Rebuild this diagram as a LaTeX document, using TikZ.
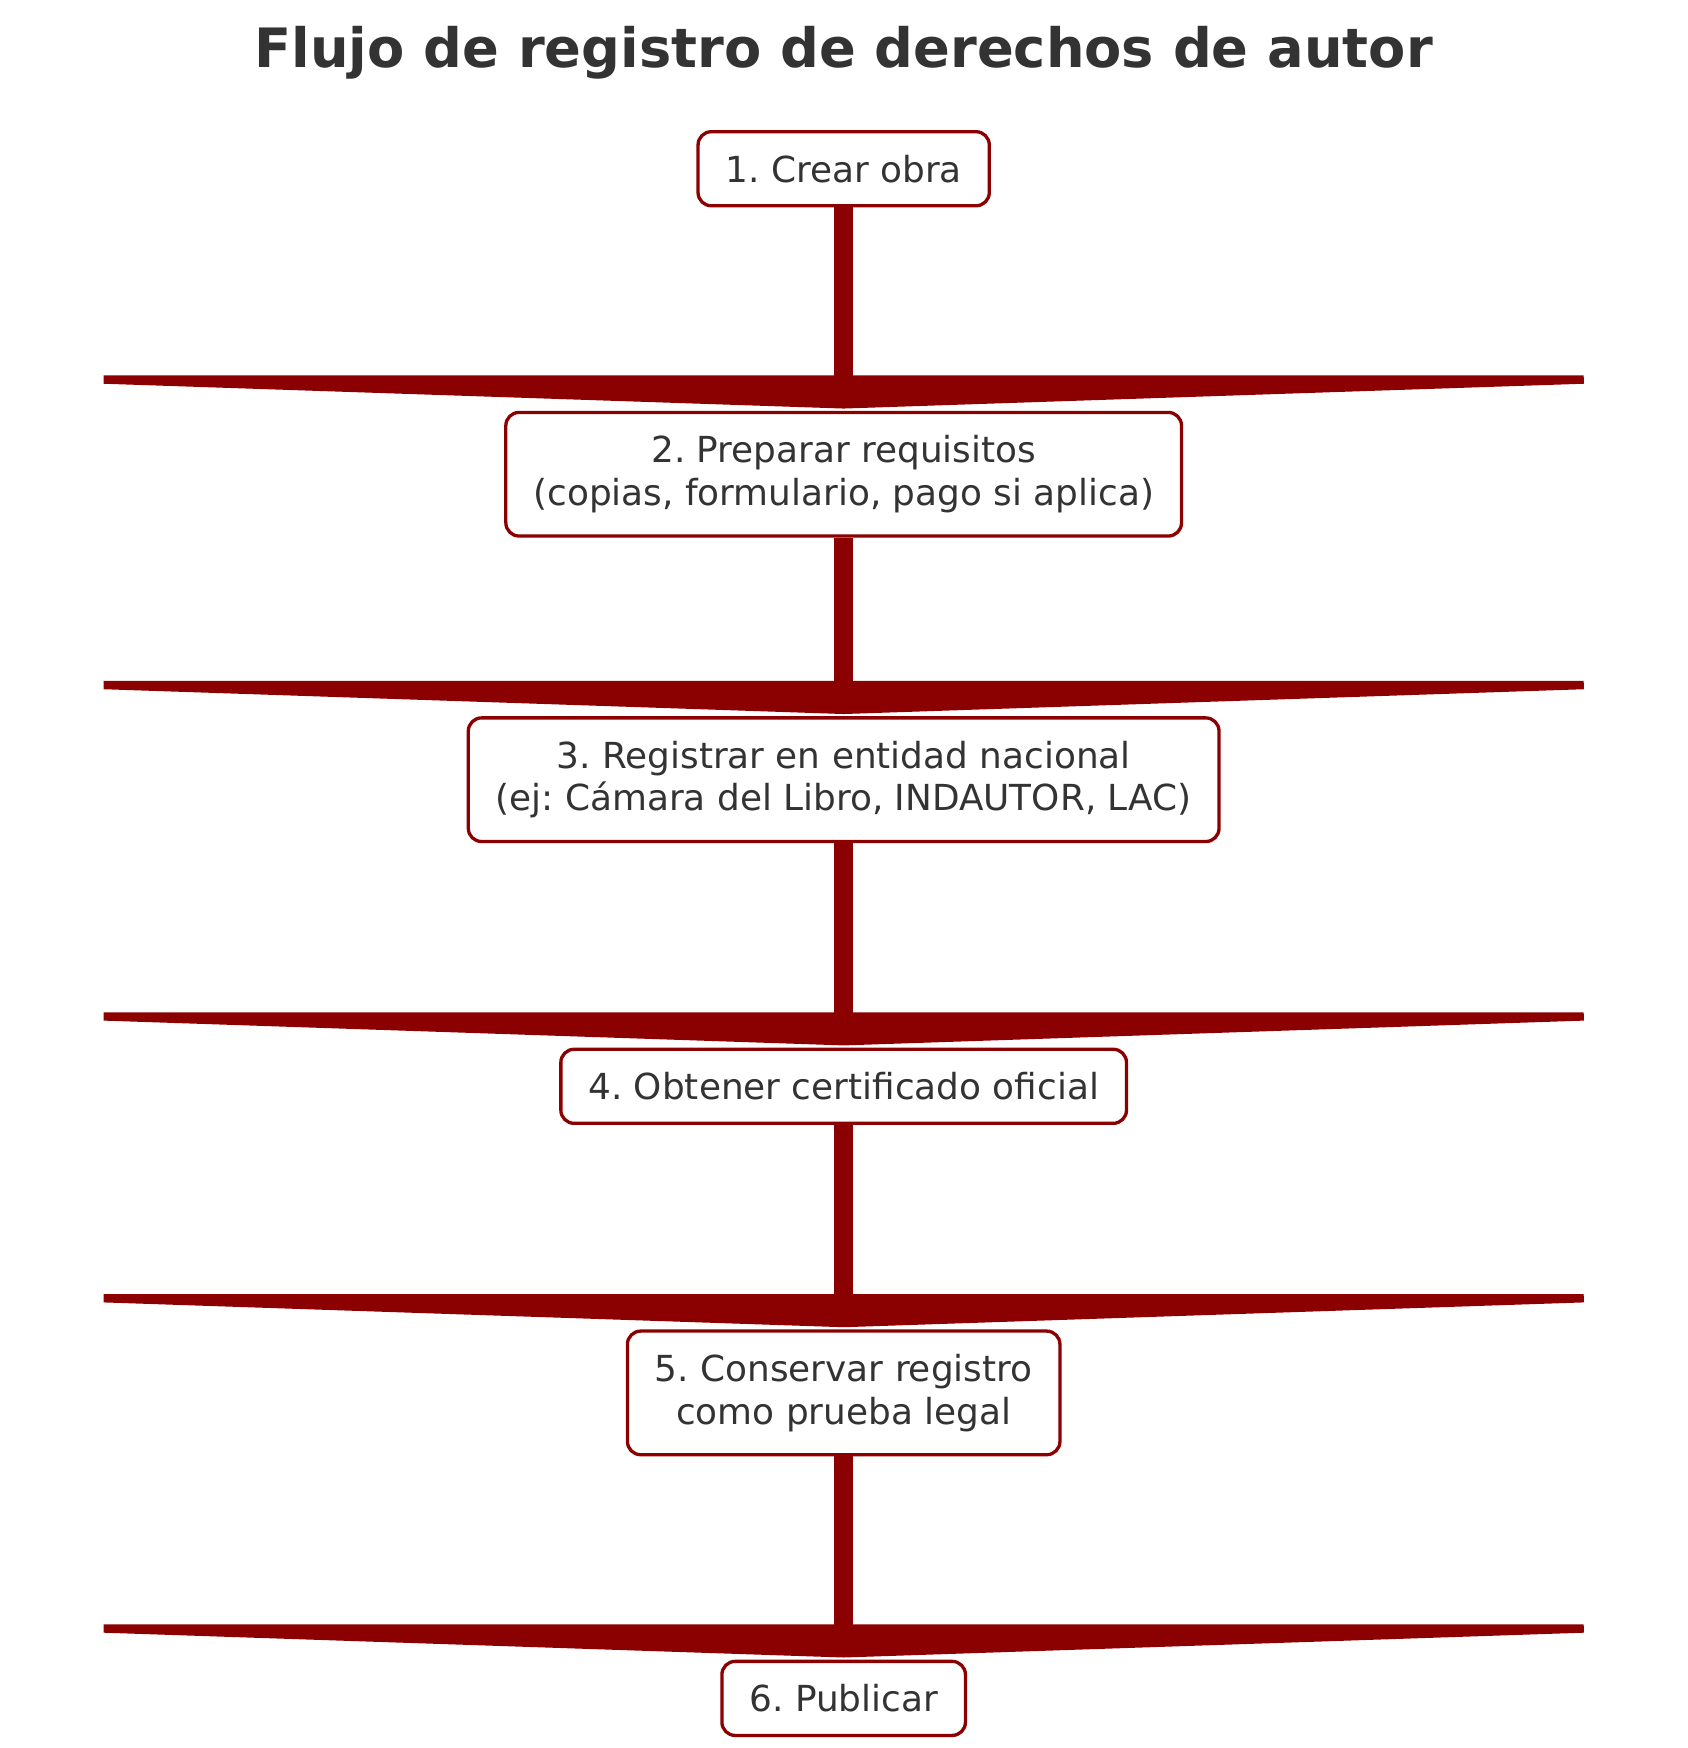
\documentclass[tikz,border=0pt]{standalone}
\usepackage{fontspec}
\setmainfont{DejaVu Sans}
\usetikzlibrary{arrows.meta, positioning}
\definecolor{flowred}{HTML}{8B0000}
\definecolor{txtgray}{HTML}{333333}

\begin{document}
\frenchspacing
\begin{tikzpicture}[x=0.02cm, y=-0.02cm,
    every node/.style={font=\fontsize{18.5}{22}\selectfont, text=txtgray},
    stepbox/.style={draw=flowred, line width=0.06cm, rounded corners=0.24cm,
      fill=white, align=center, inner xsep=0.5cm, inner ysep=0.42cm},
    flowarrow/.style={draw=flowred, line width=0.34cm,
      -{Triangle[length=0.6cm, width=35.8cm]}, shorten >=0.04cm}]
    \useasboundingbox (0,0) rectangle (1530,1585);

    % Title
    \node[font=\fontsize{28}{33}\selectfont\bfseries] (title) at (765,48) {Flujo de registro de derechos de autor};

    % Steps
    \node[stepbox] (s1) at (765,153) {1. Crear obra};
    \node[stepbox] (s2) at (765,430) {2. Preparar requisitos\\(copias, formulario, pago si aplica)};
    \node[stepbox] (s3) at (765,707) {3. Registrar en entidad nacional\\(ej: Cámara del Libro, INDAUTOR, LAC)};
    \node[stepbox] (s4) at (765,985) {4. Obtener certificado oficial};
    \node[stepbox] (s5) at (765,1263) {5. Conservar registro\\como prueba legal};
    \node[stepbox] (s6) at (765,1540) {6. Publicar};

    % Arrows
    \draw[flowarrow] (s1) -- (s2);
    \draw[flowarrow] (s2) -- (s3);
    \draw[flowarrow] (s3) -- (s4);
    \draw[flowarrow] (s4) -- (s5);
    \draw[flowarrow] (s5) -- (s6);
\end{tikzpicture}
\end{document}
